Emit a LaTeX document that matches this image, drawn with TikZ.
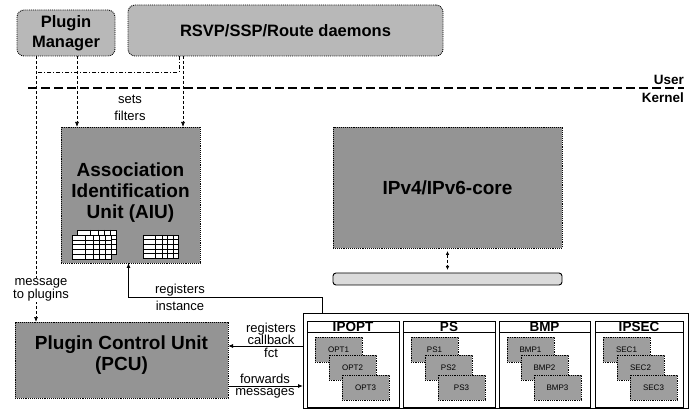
\documentclass[tikz,border=0pt]{standalone}
\usepackage{fontspec}
\setmainfont{Liberation Sans}
\usetikzlibrary{arrows.meta}
\definecolor{boxdark}{gray}{0.58}
\definecolor{boxlight}{gray}{0.72}
\definecolor{instgray}{gray}{0.62}
\definecolor{barfill}{gray}{0.86}
\newcommand{\tablegrid}[4]{%
  \filldraw[fill=white, line width=0.6pt] (#1,#2) rectangle (#3,#4);
  \foreach \gf in {0.2,0.4,0.6,0.8} {\draw[line width=0.5pt] (#1,{#2+\gf*(#4-#2)}) -- (#3,{#2+\gf*(#4-#2)});}
  \foreach \gf in {0.35,0.55,0.7,0.85} {\draw[line width=0.5pt] ({#1+\gf*(#3-#1)},#2) -- ({#1+\gf*(#3-#1)},#4);}
}
\begin{document}
\begin{tikzpicture}[x=1pt,y=-1pt,
  every node/.style={inner sep=0pt, outer sep=0pt},
  bigbox/.style={draw, densely dotted, line width=0.9pt, fill=boxdark, anchor=north west},
  topbox/.style={draw, densely dotted, line width=0.9pt, fill=boxlight, rounded corners=7pt, anchor=north west},
  bigtext/.style={font=\bfseries\fontsize{19}{21}\selectfont, align=center},
  toptext/.style={font=\bfseries\fontsize{16.5}{20}\selectfont, align=center},
  lbl/.style={font=\fontsize{13}{13}\selectfont, align=center},
  ctrl/.style={dash pattern=on 3pt off 2pt, line width=0.7pt},
  arr/.style={-{Latex[length=5pt,width=4pt]}},
  plugbox/.style={draw, line width=0.8pt, fill=white, anchor=north west, minimum height=86pt},
  inst/.style={draw, densely dotted, line width=0.8pt, fill=instgray, anchor=north west, minimum width=47pt, minimum height=25pt, font=\fontsize{8}{8}\selectfont},
  ttl/.style={font=\bfseries\fontsize{13.5}{13.5}\selectfont}
]
\useasboundingbox (0,0) rectangle (689,409);

% top boxes
\node[topbox, toptext, minimum width=98pt, minimum height=46pt] (pm) at (17,10) {Plugin\\Manager};
\node[topbox, toptext, minimum width=315pt, minimum height=51pt] (rsvp) at (128,5) {RSVP/SSP/Route daemons};

% user / kernel
\draw[line width=1.1pt, dash pattern=on 9pt off 4pt] (28,88) -- (684,88);
\node[ttl, anchor=east] (user) at (684,80) {User};
\node[ttl, anchor=east] (kernel) at (684,98) {Kernel};

% AIU
\node[bigbox, minimum width=139pt, minimum height=136pt] (aiu) at (61,127) {};
\node[bigtext] (aiutext) at (130.5,193) {Association\\Identification\\Unit (AIU)};
\tablegrid{77}{230}{116}{254}
\tablegrid{72}{235}{111}{259}
\tablegrid{143}{235}{178}{258}

% core
\node[bigbox, bigtext, minimum width=229pt, minimum height=121pt] (core) at (333,127) {IPv4/IPv6-core};
\node[draw, line width=0.9pt, fill=barfill, rounded corners=3pt, anchor=north west, minimum width=229pt, minimum height=12pt] (bar) at (333,273) {};
\draw[ctrl, {Latex[length=4pt,width=3.5pt]}-{Latex[length=4pt,width=3.5pt]}] ([yshift=-3pt]core.south) -- ([yshift=3pt]bar.north);

% PCU
\node[bigbox, minimum width=213pt, minimum height=76pt] (pcu) at (15,322) {};
\node[bigtext] (pcutext) at (121.5,355) {Plugin Control Unit\\(PCU)};

% plugins container
\node[draw, line width=0.9pt, anchor=north west, minimum width=385pt, minimum height=95.5pt] (plugins) at (303,313) {};
\foreach \nm/\L/\W/\T/\a/\b/\c in {ipopt/307/92/IPOPT/OPT1/OPT2/OPT3, ps/403/92/PS/PS1/PS2/PS3, bmp/499/91/BMP/BMP1/BMP2/BMP3, ipsec/595/88/IPSEC/SEC1/SEC2/SEC3} {
  \node[plugbox, minimum width=\W pt] (\nm) at (\L,321) {};
  \draw[line width=0.8pt] (\nm.north west) ++(0,11) -- ++(\W,0);
  \node[ttl] (\nm-title) at ([yshift=-6pt]\nm.north) {\T};
  \node[inst] (\nm-1) at ({\L+8},337) {\a};
  \node[inst] (\nm-2) at ({\L+22},355) {\b};
  \node[inst] (\nm-3) at ({\L+35},375) {\c};
}

% control lines from user space
\coordinate (mj) at (36,72);
\draw[ctrl, arr] (pm.south -| 36,0) -- (pcu.north -| 36,0);
\draw[dash pattern=on 4pt off 2pt on 1pt off 2pt, line width=0.7pt] (rsvp.south -| 179,0) |- (mj);
\draw[ctrl, arr] (pm.south -| 77,0) -- (aiu.north -| 77,0);
\draw[ctrl, arr] (rsvp.south -| 183,0) -- (aiu.north -| 183,0);
\node[lbl, font=\fontsize{13}{17}\selectfont] (sets) at (130,108) {sets\\filters};
\node[lbl, fill=white, inner sep=1pt] (msg) at (41,290) {message\\to plugins};

% registers instance
\draw[arr, line width=0.8pt] ([xshift=19pt]plugins.north west) -- ++(0,-16) -| ([xshift=-2pt]aiu.south);
\node[lbl, font=\fontsize{13}{17}\selectfont] (regi) at (180,297) {registers\\instance};

% callback / forwards
\draw[arr, line width=0.8pt] (plugins.west |- 0,346) -- (pcu.east |- 0,346);
\node[lbl, font=\fontsize{13}{12.5}\selectfont] (regc) at (271,340) {registers\\callback\\fct};
\draw[arr, line width=0.8pt] (pcu.east |- 0,386) -- (plugins.west |- 0,386);
\node[lbl, font=\fontsize{13}{12.5}\selectfont] (fwd) at (265,386) {forwards\\messages};
\end{tikzpicture}
\end{document}
